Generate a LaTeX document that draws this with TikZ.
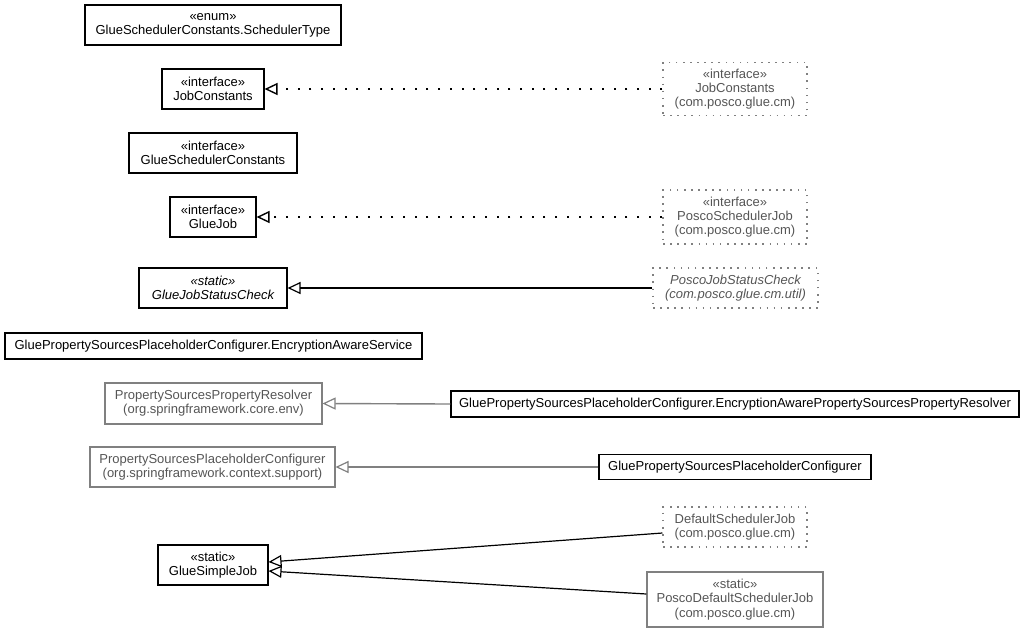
\documentclass[tikz,border=0pt]{standalone}
\usepackage{fontspec}
\setmainfont{Liberation Sans}
\usetikzlibrary{arrows.meta,calc}
\definecolor{boxgray}{RGB}{128,128,128}
\definecolor{txtgray}{RGB}{85,85,85}
\begin{document}
\begin{tikzpicture}[x=1pt,y=-1pt,
  every node/.style={font=\fontsize{13}{14.2}\selectfont, align=center, inner sep=0pt},
  cls/.style={draw=black, line width=1.1pt, fill=white},
  ext/.style={draw=boxgray, line width=1.1pt, text=txtgray},
  extdot/.style={draw=boxgray, line width=1.1pt, dash pattern=on 1.6pt off 5.5pt, text=txtgray},
  realize/.style={draw=black, line width=2pt, dash pattern=on 2pt off 9.7pt, -{Triangle[open, length=13pt, width=12pt, line width=1.4pt]}},
  inherit/.style={draw=black, line width=1.2pt, -{Triangle[open, length=13pt, width=12pt, line width=1.2pt]}},
  inheritg/.style={draw=boxgray, line width=1.4pt, -{Triangle[open, length=13pt, width=12pt, line width=1.2pt]}}
]
\useasboundingbox (0,0) rectangle (1025,633);
% left column
\node[cls, minimum width=256, minimum height=40] (st) at (213,25) {«enum»\\GlueSchedulerConstants.SchedulerType};
\node[cls, minimum width=102, minimum height=40] (jc) at (213,89) {«interface»\\JobConstants};
\node[cls, minimum width=168, minimum height=40] (gsc) at (213,153) {«interface»\\GlueSchedulerConstants};
\node[cls, minimum width=86, minimum height=40] (gj) at (213,217) {«interface»\\GlueJob};
\node[cls, minimum width=148, minimum height=40, font=\fontsize{13}{14.2}\selectfont\itshape] (gjsc) at (213,288) {«static»\\GlueJobStatusCheck};
\node[cls, minimum width=417, minimum height=26] (eas) at (213.5,346) {GluePropertySourcesPlaceholderConfigurer.EncryptionAwareService};
\node[ext, minimum width=217, minimum height=41] (pspr) at (213.5,403.5) {PropertySourcesPropertyResolver\\(org.springframework.core.env)};
\node[ext, minimum width=245, minimum height=40] (pspc) at (212.5,467) {PropertySourcesPlaceholderConfigurer\\(org.springframework.context.support)};
\node[cls, minimum width=110, minimum height=40] (gsj) at (213,565) {«static»\\GlueSimpleJob};
% right column
\node[extdot, minimum width=144, minimum height=53] (jcx) at (735,89) {«interface»\\JobConstants\\(com.posco.glue.cm)};
\node[extdot, minimum width=144, minimum height=54] (psj) at (735,217) {«interface»\\PoscoSchedulerJob\\(com.posco.glue.cm)};
\node[extdot, minimum width=165, minimum height=40, font=\fontsize{13}{14.2}\selectfont\itshape] (pjsc) at (735.5,288) {PoscoJobStatusCheck\\(com.posco.glue.cm.util)};
\node[cls, minimum width=568, minimum height=26] (eapspr) at (735,404) {GluePropertySourcesPlaceholderConfigurer.EncryptionAwarePropertySourcesPropertyResolver};
\node[cls, minimum width=272, minimum height=25] (gpspc) at (735,467) {GluePropertySourcesPlaceholderConfigurer};
\node[extdot, minimum width=144, minimum height=40] (dsj) at (735,527) {DefaultSchedulerJob\\(com.posco.glue.cm)};
\node[ext, minimum width=176, minimum height=55] (pdsj) at (735,599.5) {«static»\\PoscoDefaultSchedulerJob\\(com.posco.glue.cm)};
% connectors
\draw[realize] (jcx.west) -- (jc.east);
\draw[realize] (psj.west) -- (gj.east);
\draw[inherit] (pjsc.west) -- (gjsc.east);
\draw[inheritg] (eapspr.west) -- (pspr.east);
\draw[inheritg] (gpspc.west) -- (pspc.east);
\coordinate (dsjA) at ($(dsj.west)+(0,6)$);
\coordinate (gsjA) at ($(gsj.east)+(0,-3)$);
\coordinate (pdsjA) at ($(pdsj.west)+(0,-5.5)$);
\coordinate (gsjB) at ($(gsj.east)+(0,6)$);
\draw[inherit] (dsjA) -- (gsjA);
\draw[inherit] (pdsjA) -- (gsjB);
\end{tikzpicture}
\end{document}
